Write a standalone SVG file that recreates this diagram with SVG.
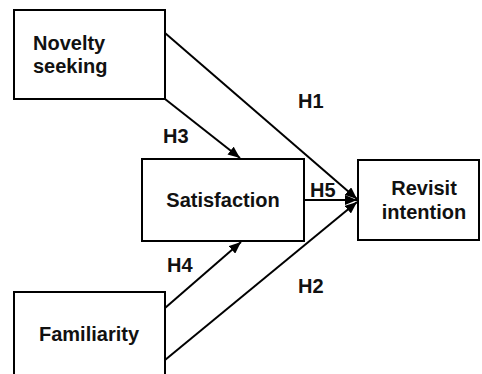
<svg xmlns="http://www.w3.org/2000/svg" width="482" height="374" viewBox="0 0 482 374">
<style>
.box{fill:#fff;stroke:#000;stroke-width:2}
.t{font-family:"Liberation Sans",Arial,sans-serif;font-weight:bold;font-size:20px;fill:#111}
.c{stroke:#000;stroke-width:2;fill:none;marker-end:url(#ah)}
</style>
<defs>
<marker id="ah" viewBox="0 0 12 10" refX="12" refY="5" markerWidth="12" markerHeight="10" markerUnits="userSpaceOnUse" orient="auto">
<path d="M0,0 L12,5 L0,10 z" fill="#000"/>
</marker>
</defs>
<rect width="482" height="374" fill="#fff"/>
<g id="novelty">
<rect class="box" x="14" y="10" width="151" height="89"/>
<text class="t" x="33" y="50">Novelty</text>
<text class="t" x="33" y="73">seeking</text>
</g>
<g id="familiarity">
<rect class="box" x="14" y="292" width="151" height="100"/>
<text class="t" x="89" y="341" text-anchor="middle">Familiarity</text>
</g>
<g id="satisfaction">
<rect class="box" x="142" y="159" width="162" height="82"/>
<text class="t" x="223" y="207" text-anchor="middle">Satisfaction</text>
</g>
<g id="revisit">
<rect class="box" x="358" y="160" width="121" height="80"/>
<text class="t" x="424" y="195" text-anchor="middle">Revisit</text>
<text class="t" x="424" y="219" text-anchor="middle">intention</text>
</g>
<g id="connectors">
<line class="c" x1="165" y1="33" x2="357" y2="199"/>
<line class="c" x1="165" y1="99" x2="240" y2="158"/>
<line class="c" x1="304" y1="200" x2="357" y2="200"/>
<line class="c" x1="165" y1="308" x2="241" y2="242"/>
<line class="c" x1="165" y1="360" x2="357" y2="202"/>
<text class="t" x="298" y="108">H1</text>
<text class="t" x="163" y="143">H3</text>
<text class="t" x="310" y="197">H5</text>
<text class="t" x="167" y="272">H4</text>
<text class="t" x="298" y="293">H2</text>
</g>
</svg>
